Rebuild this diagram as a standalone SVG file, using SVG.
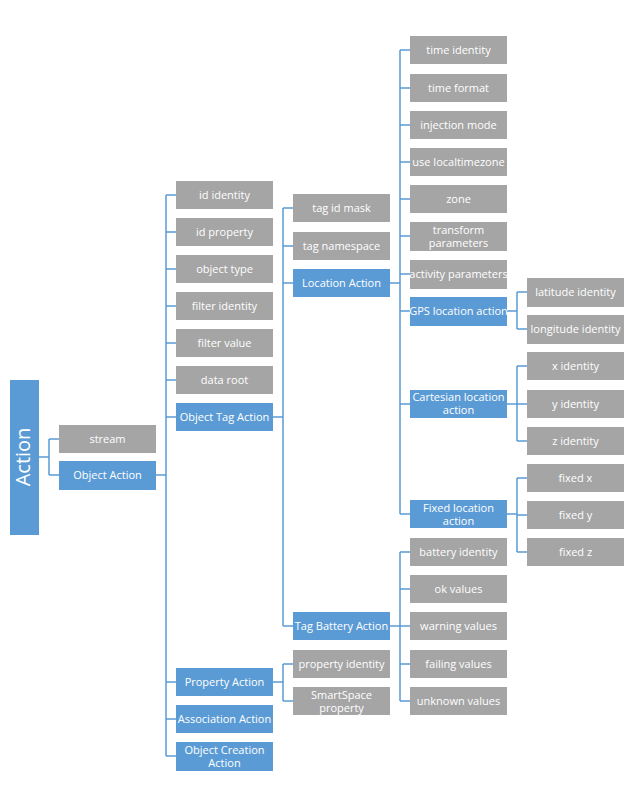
<svg xmlns="http://www.w3.org/2000/svg" width="626" height="808" viewBox="0 0 626 808">
<style>
.g{fill:#a5a5a5}.b{fill:#5b9bd5}
text{font-family:"Segoe UI","Open Sans","Liberation Sans",sans-serif;font-size:11px;fill:#fff;text-anchor:middle}
.c path{fill:none;stroke:#5b9bd5;stroke-width:1.5}
</style>
<rect width="626" height="808" fill="#fff"/>
<g class="c">
<path d="M39 457H49M49 439V475M49 439H59M49 475H59"/>
<path d="M156 475H166M166 195V756M166 195H176M166 232H176M166 269H176M166 306H176M166 343H176M166 380H176M166 417H176M166 682H176M166 719H176M166 756H176"/>
<path d="M273 417H283M283 208V626M283 208H293M283 246H293M283 283H293M283 626H293"/>
<path d="M273 682H283M283 664V701M283 664H293M283 701H293"/>
<path d="M390 283H400M400 50V514M400 50H410M400 88H410M400 125H410M400 162H410M400 199H410M400 236H410M400 274H410M400 311H410M400 404H410M400 514H410"/>
<path d="M390 626H400M400 552V701M400 552H410M400 589H410M400 626H410M400 664H410M400 701H410"/>
<path d="M507 311H517M517 292V329M517 292H527M517 329H527"/>
<path d="M507 404H517M517 366V441M517 366H527M517 404H527M517 441H527"/>
<path d="M507 514H517M517 478V552M517 478H527M517 515H527M517 552H527"/>
</g>
<g id="action"><rect class="b" x="10" y="380" width="29" height="155"/><text transform="translate(30 457) rotate(-90)" style="font-size:20px">Action</text></g>
<g id="stream"><rect class="g" x="59" y="425" width="97" height="28"/><text x="107.5" y="443">stream</text></g>
<g id="objectaction"><rect class="b" x="59" y="461" width="97" height="29"/><text x="107.5" y="479">Object Action</text></g>
<g id="c2">
<rect class="g" x="176" y="181" width="97" height="28"/><text x="224.5" y="199">id identity</text>
<rect class="g" x="176" y="218" width="97" height="28"/><text x="224.5" y="236">id property</text>
<rect class="g" x="176" y="255" width="97" height="28"/><text x="224.5" y="273">object type</text>
<rect class="g" x="176" y="292" width="97" height="28"/><text x="224.5" y="310">filter identity</text>
<rect class="g" x="176" y="329" width="97" height="28"/><text x="224.5" y="347">filter value</text>
<rect class="g" x="176" y="366" width="97" height="28"/><text x="224.5" y="384">data root</text>
<rect class="b" x="176" y="403" width="97" height="28"/><text x="224.5" y="421">Object Tag Action</text>
<rect class="b" x="176" y="668" width="97" height="28"/><text x="224.5" y="686">Property Action</text>
<rect class="b" x="176" y="705" width="97" height="28"/><text x="224.5" y="723">Association Action</text>
<rect class="b" x="176" y="742" width="97" height="29"/><text x="224.5" y="754">Object Creation</text><text x="224.5" y="767">Action</text>
</g>
<g id="c3">
<rect class="g" x="293" y="194" width="97" height="28"/><text x="341.5" y="212">tag id mask</text>
<rect class="g" x="293" y="232" width="97" height="28"/><text x="341.5" y="250">tag namespace</text>
<rect class="b" x="293" y="269" width="97" height="28"/><text x="341.5" y="287">Location Action</text>
<rect class="b" x="293" y="612" width="97" height="28"/><text x="341.5" y="630">Tag Battery Action</text>
<rect class="g" x="293" y="650" width="97" height="28"/><text x="341.5" y="668">property identity</text>
<rect class="g" x="293" y="687" width="97" height="28"/><text x="341.5" y="699">SmartSpace</text><text x="341.5" y="712">property</text>
</g>
<g id="c4">
<rect class="g" x="410" y="36" width="97" height="28"/><text x="458.5" y="54">time identity</text>
<rect class="g" x="410" y="74" width="97" height="28"/><text x="458.5" y="92">time format</text>
<rect class="g" x="410" y="111" width="97" height="28"/><text x="458.5" y="129">injection mode</text>
<rect class="g" x="410" y="148" width="97" height="28"/><text x="458.5" y="166">use localtimezone</text>
<rect class="g" x="410" y="185" width="97" height="28"/><text x="458.5" y="203">zone</text>
<rect class="g" x="410" y="222" width="97" height="29"/><text x="458.5" y="234">transform</text><text x="458.5" y="247">parameters</text>
<rect class="g" x="410" y="260" width="97" height="29"/><text x="458.5" y="278">activity parameters</text>
<rect class="b" x="410" y="297" width="97" height="29"/><text x="458.5" y="315">GPS location action</text>
<rect class="b" x="410" y="390" width="97" height="28"/><text x="458.5" y="401">Cartesian location</text><text x="458.5" y="414">action</text>
<rect class="b" x="410" y="500" width="97" height="28"/><text x="458.5" y="512">Fixed location</text><text x="458.5" y="525">action</text>
<rect class="g" x="410" y="538" width="97" height="28"/><text x="458.5" y="556">battery identity</text>
<rect class="g" x="410" y="575" width="97" height="28"/><text x="458.5" y="593">ok values</text>
<rect class="g" x="410" y="612" width="97" height="28"/><text x="458.5" y="630">warning values</text>
<rect class="g" x="410" y="650" width="97" height="28"/><text x="458.5" y="668">failing values</text>
<rect class="g" x="410" y="687" width="97" height="28"/><text x="458.5" y="705">unknown values</text>
</g>
<g id="c5">
<rect class="g" x="527" y="278" width="97" height="29"/><text x="575.5" y="296">latitude identity</text>
<rect class="g" x="527" y="315" width="97" height="29"/><text x="575.5" y="333">longitude identity</text>
<rect class="g" x="527" y="352" width="97" height="28"/><text x="575.5" y="370">x identity</text>
<rect class="g" x="527" y="390" width="97" height="28"/><text x="575.5" y="408">y identity</text>
<rect class="g" x="527" y="427" width="97" height="28"/><text x="575.5" y="445">z identity</text>
<rect class="g" x="527" y="464" width="97" height="28"/><text x="575.5" y="482">fixed x</text>
<rect class="g" x="527" y="501" width="97" height="28"/><text x="575.5" y="519">fixed y</text>
<rect class="g" x="527" y="538" width="97" height="28"/><text x="575.5" y="556">fixed z</text>
</g>
</svg>
